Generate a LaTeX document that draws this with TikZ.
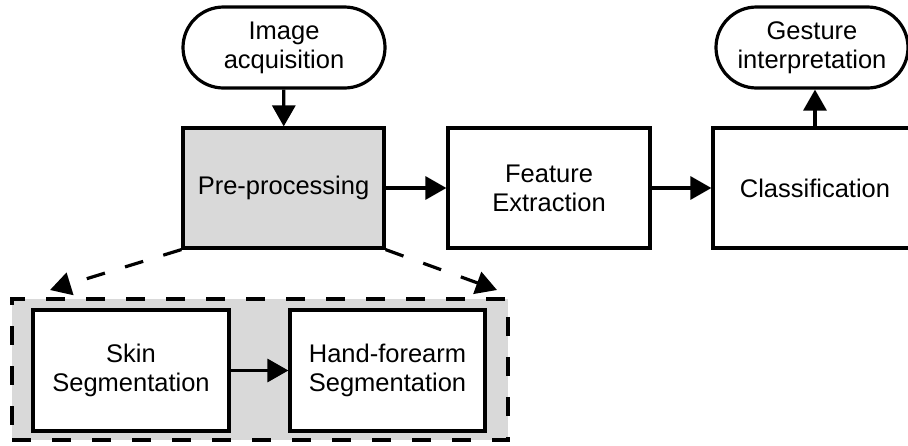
\documentclass[tikz,border=0pt]{standalone}
\usepackage{fontspec}
\setmainfont{Liberation Sans}
\usetikzlibrary{shapes.misc,arrows.meta}
\definecolor{boxgray}{RGB}{217,217,217}
\begin{document}
\begin{tikzpicture}[x=1pt,y=-1pt,line width=3.2pt,
  txt/.style={font=\fontsize{25.5}{29}\selectfont,align=center},
  blk/.style={txt,draw,rectangle,fill=white,inner sep=0pt},
  term/.style={txt,draw,rounded rectangle,fill=white,inner sep=0pt},
  arr/.style={-{Triangle[length=21pt,width=23pt]}},
  dsh/.style={dash pattern=on 19pt off 21pt}]
\useasboundingbox (0,0) rectangle (908,445);
% group behind the two segmentation steps
\node[draw,dsh,fill=boxgray,minimum width=496pt,minimum height=141pt,inner sep=0pt] (grp) at (260,369.5) {};
\node[blk,minimum width=196pt,minimum height=121pt] (skin) at (131,370.5) {Skin\\Segmentation};
\node[blk,minimum width=195pt,minimum height=121pt] (hand) at (387.5,370.5) {Hand-forearm\\Segmentation};
% main chain
\node[term,minimum width=202pt,minimum height=81pt] (acq) at (284,47.5) {Image\\acquisition};
\node[blk,fill=boxgray,minimum width=201pt,minimum height=120pt] (pre) at (283.5,188) {Pre-processing};
\node[blk,minimum width=202pt,minimum height=120pt] (feat) at (549,188) {Feature\\Extraction};
\node[blk,minimum width=204pt,minimum height=120pt] (cls) at (815,188) {Classification};
\node[term,minimum width=192pt,minimum height=81pt] (gest) at (812,47.5) {Gesture\\interpretation};
\coordinate (gl) at (50,290);
\coordinate (gr) at (497,290);

\draw[arr] (acq) -- (pre);
\draw[arr] (pre) -- (feat);
\draw[arr] (feat) -- (cls);
\draw[arr] (cls.north) -- (cls.north |- gest.south);
\draw[arr] (skin) -- (hand);
\draw[arr,dsh] (pre.south west) -- (gl);
\draw[arr,dsh] (pre.south east) -- (gr);
\end{tikzpicture}
\end{document}
